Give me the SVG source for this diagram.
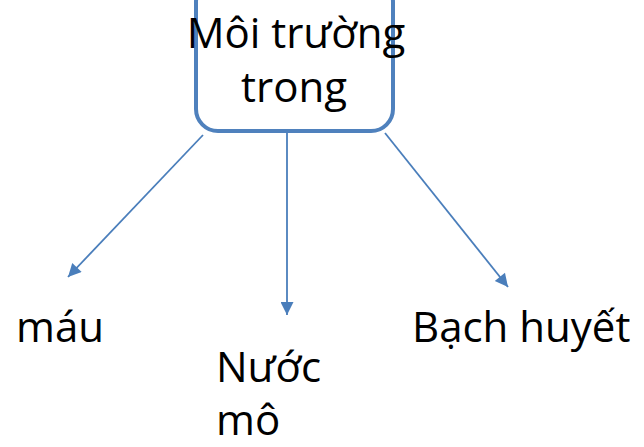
<svg xmlns="http://www.w3.org/2000/svg" width="644" height="447" viewBox="0 0 644 447">
  <defs>
    <marker id="arrow" viewBox="0 0 10 10" refX="10" refY="5" markerWidth="15" markerHeight="13" markerUnits="userSpaceOnUse" orient="auto">
      <path d="M0,0 L10,5 L0,10 z" fill="#4a7ebb"/>
    </marker>
    <style>
      .label { font-family: "Open Sans", "Noto Sans", sans-serif; font-size: 42px; fill: #000; }
      .box { fill: #fff; stroke: #4f81bd; stroke-width: 4; }
      .conn { stroke: #4a7ebb; stroke-width: 1.8; fill: none; }
    </style>
  </defs>
  <rect width="644" height="447" fill="#fff"/>

  <!-- connectors -->
  <g id="connectors">
    <line class="conn" x1="203" y1="135" x2="68" y2="277" marker-end="url(#arrow)"/>
    <line class="conn" x1="287" y1="128" x2="287" y2="315" marker-end="url(#arrow)"/>
    <line class="conn" x1="385" y1="133" x2="508" y2="287" marker-end="url(#arrow)"/>
  </g>

  <!-- root node -->
  <g id="moi-truong-trong">
    <rect class="box" x="196" y="-20" width="197" height="151" rx="22" ry="22"/>
    <text class="label" x="296" y="48" text-anchor="middle">Môi trường</text>
    <text class="label" x="294" y="102" text-anchor="middle">trong</text>
  </g>

  <!-- leaf nodes -->
  <g id="mau">
    <text class="label" x="16" y="342">máu</text>
  </g>
  <g id="nuoc-mo">
    <text class="label" x="216" y="382">Nước</text>
    <text class="label" x="216" y="435">mô</text>
  </g>
  <g id="bach-huyet">
    <text class="label" x="412" y="342">Bạch huyết</text>
  </g>
</svg>
